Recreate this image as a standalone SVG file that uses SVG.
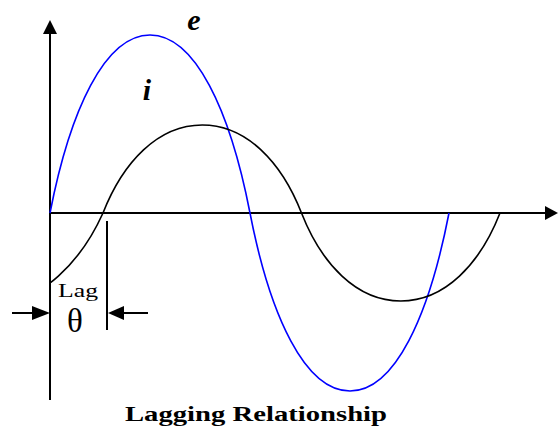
<svg xmlns="http://www.w3.org/2000/svg" width="558" height="431" viewBox="0 0 558 431">
<style>
.ax{stroke:#000;stroke-width:2;fill:none}
.cv{fill:none;stroke-width:1.6}
.lbl{font-family:"Liberation Serif","Times New Roman",serif;fill:#000}
</style>
<defs>
<clipPath id="clipI"><rect x="50" y="0" width="460" height="431"/></clipPath>
</defs>
<rect width="558" height="431" fill="#fff"/>
<g id="connectors">
<line class="ax" x1="50" y1="30" x2="50" y2="400"/>
<polygon points="50,20 43,34 57,34" fill="#000"/>
<line class="ax" x1="50" y1="213" x2="548" y2="213"/>
<polygon points="558,213 545,206 545,220" fill="#000"/>
<line class="ax" x1="107" y1="221" x2="107" y2="330"/>
<line class="ax" x1="12" y1="313" x2="40" y2="313"/>
<polygon points="50,313 32,306 32,320" fill="#000"/>
<line class="ax" x1="118" y1="313" x2="148" y2="313"/>
<polygon points="108,313 124,306 124,320" fill="#000"/>
</g>
<g id="curve-e">
<path class="cv" stroke="#0000ff" d="M50,213 C70,110 105,35 150,35 C195,35 230,110 250,213 C270,316 305,391 350,391 C395,391 429,316 449,213"/>
</g>
<g id="curve-i">
<path class="cv" stroke="#000" clip-path="url(#clipI)" d="M3.75,301 C40,301 80,264 103,213 C123,162 158,125 202.25,125 C246.5,125 281.5,162 301.5,213 C321.5,264 356.5,301 400.75,301 C445,301 480,264 500,213"/>
</g>
<g id="labels">
<text class="lbl" x="194" y="30" font-size="30" font-weight="bold" font-style="italic" text-anchor="middle">e</text>
<text class="lbl" x="147" y="100" font-size="30" font-weight="bold" font-style="italic" text-anchor="middle">i</text>
<text class="lbl" x="78" y="297" font-size="19" text-anchor="middle" textLength="40" lengthAdjust="spacingAndGlyphs">Lag</text>
<text class="lbl" x="75" y="332" font-size="33" text-anchor="middle">θ</text>
<text class="lbl" x="256" y="421" font-size="22" font-weight="bold" text-anchor="middle" textLength="262" lengthAdjust="spacingAndGlyphs">Lagging Relationship</text>
</g>
</svg>
